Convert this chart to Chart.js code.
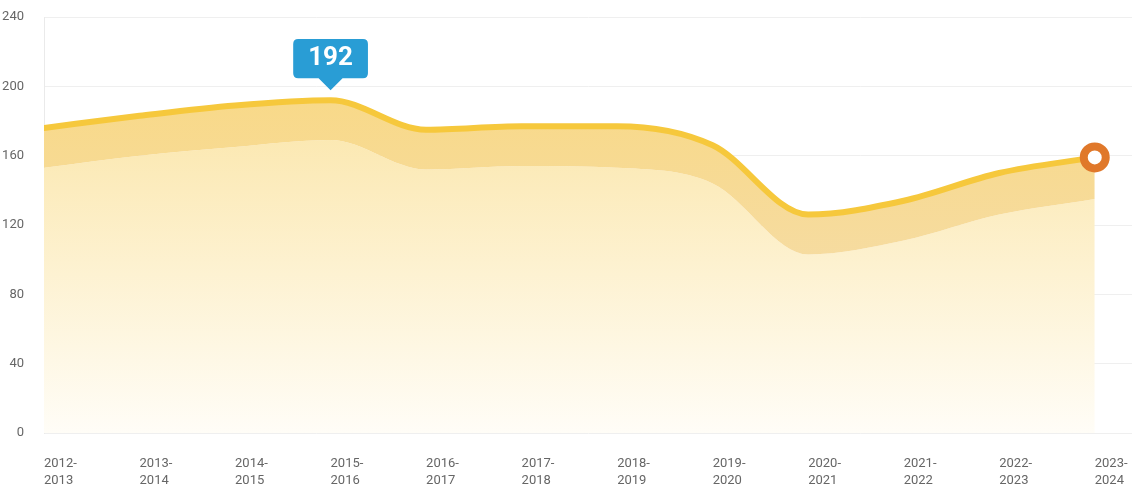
<!DOCTYPE html>
<html>
<head>
<meta charset="utf-8">
<script src="https://cdn.jsdelivr.net/npm/chart.js@4"></script>
<style>
  html, body { margin: 0; padding: 0; background: #fff; }
  #contenedor { width: 1132px; height: 491px; }
</style>
</head>
<body>
<div id="contenedor"><canvas id="grafico"></canvas></div>
<script>
// Datos
const periodos = ['2012-2013', '2013-2014', '2014-2015', '2015-2016', '2016-2017', '2017-2018',
                  '2018-2019', '2019-2020', '2020-2021', '2021-2022', '2022-2023', '2023-2024'];
const valoresSuperior = [176, 183, 189, 192, 175, 177, 177, 166, 126, 134, 150, 159];
const valoresInferior = [153, 160, 165, 169, 152, 154, 153, 144, 103, 111, 126, 135];
const ticksY = [0, 40, 80, 120, 160, 200, 240];

document.addEventListener('DOMContentLoaded', function() {
    Chart.defaults.font.family = 'Roboto';
    Chart.defaults.animation = false;

    const ultimo = valoresSuperior.length - 1;
    const idxMax = valoresSuperior.indexOf(Math.max(...valoresSuperior));

    // Degradados verticales para las áreas
    function degradado(context, arriba, abajo) {
        const area = context.chart.chartArea;
        if (!area) return arriba;
        const g = context.chart.ctx.createLinearGradient(0, area.top, 0, area.bottom);
        g.addColorStop(0, arriba);
        g.addColorStop(1, abajo);
        return g;
    }

    const ctx = document.getElementById('grafico').getContext('2d');
    const grafico = new Chart(ctx, {
        type: 'line',
        data: {
            datasets: [{
                label: 'Superior',
                data: valoresSuperior.map((v, i) => ({ x: i, y: v })),
                borderColor: '#f6c83c',
                borderWidth: 6,
                borderCapStyle: 'round',
                cubicInterpolationMode: 'monotone',
                fill: '+1',
                backgroundColor: c => degradado(c, 'rgb(249,216,125)', 'rgb(244,222,185)'),
                pointRadius: c => c.dataIndex === ultimo ? 11 : 0,
                pointBorderWidth: 8,
                pointBorderColor: '#e0782a',
                pointBackgroundColor: '#ffffff'
            }, {
                label: 'Inferior',
                data: valoresInferior.map((v, i) => ({ x: i, y: v })),
                borderWidth: 0,
                cubicInterpolationMode: 'monotone',
                fill: 'origin',
                backgroundColor: c => degradado(c, 'rgb(250,224,150)', 'rgb(255,253,247)'),
                pointRadius: 0
            }]
        },
        options: {
            responsive: true,
            maintainAspectRatio: false,
            events: [],
            layout: { autoPadding: false, padding: { top: 17, right: 0, bottom: 0, left: 0 } },
            plugins: {
                legend: { display: false },
                tooltip: {
                    backgroundColor: '#299dd5',
                    displayColors: false,
                    xAlign: 'center',
                    yAlign: 'bottom',
                    caretSize: 12,
                    caretPadding: 10,
                    cornerRadius: 5,
                    padding: { x: 15, y: 4 },
                    bodyColor: '#ffffff',
                    bodyFont: { size: 26, weight: 'bold' },
                    filter: item => item.datasetIndex === 0,
                    callbacks: {
                        title: () => '',
                        label: c => String(c.parsed.y)
                    }
                }
            },
            scales: {
                x: {
                    type: 'linear',
                    min: 0,
                    max: 11.39,
                    afterFit: s => {
                        s.height = 58;
                        s.paddingLeft = 0;
                        s.paddingRight = 0;
                    },
                    grid: { display: false, drawTicks: false },
                    border: { display: false },
                    ticks: {
                        stepSize: 1,
                        autoSkip: false,
                        maxRotation: 0,
                        includeBounds: false,
                        align: 'start',
                        padding: 22,
                        color: '#666',
                        font: { size: 13, lineHeight: 1.3 },
                        callback: v => {
                            const p = periodos[v];
                            if (!Number.isInteger(v) || !p) return '';
                            const [a, b] = p.split('-');
                            return [a + '-', b];
                        }
                    }
                },
                y: {
                    min: ticksY[0],
                    max: ticksY[ticksY.length - 1],
                    afterFit: s => {
                        s.width = 44;
                        s.paddingTop = 0;
                        s.paddingBottom = 0;
                    },
                    grid: { color: '#efefef', drawTicks: false },
                    border: { display: true, color: '#eaeaea' },
                    ticks: {
                        stepSize: ticksY[1] - ticksY[0],
                        padding: 20,
                        color: '#666',
                        font: { size: 13 }
                    }
                }
            }
        }
    });

    // Tooltip fijo sobre el máximo
    grafico.tooltip.setActiveElements([{ datasetIndex: 0, index: idxMax }], { x: 0, y: 0 });
    grafico.update();
});
</script>
</body>
</html>
